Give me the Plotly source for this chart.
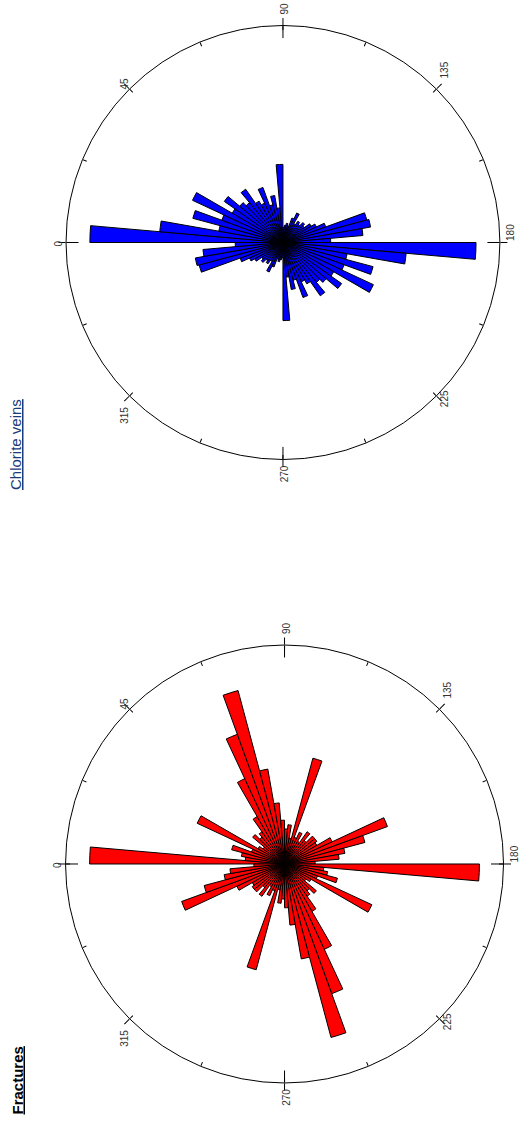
import plotly.graph_objects as go

# 5-degree bins over 0-180 (axial data: each bin is also drawn at +180)
bin_starts = list(range(0, 180, 5))

fractures_half = [89, 18, 20, 25, 16, 44, 14, 12, 19, 16, 18, 25,
                  43, 63, 82, 44, 28, 20, 16, 18, 12, 50, 13, 16,
                  12, 18, 14, 18, 18, 17, 24, 50, 38, 28, 25, 14]

chlorite_half = [89, 57, 30, 43, 30, 46, 27, 33, 26, 24, 30, 22,
                 20, 27, 18, 22, 16, 36, 7, 8, 9, 8, 12, 15,
                 10, 12, 11, 13, 12, 15, 17, 21, 40, 41, 37, 22]

tick_major = [0, 45, 90, 135, 180, 225, 270, 315]
tick_major_text = ["0", "45", "90", "135", "180", "225", "270", "315"]
tick_minor = [0, 22.5, 45, 67.5, 90, 112.5, 135, 157.5, 180, 202.5, 225,
              247.5, 270, 292.5, 315, 337.5]
tick_cardinal = [0, 90, 180, 270]

theta_half = [b + 2.5 for b in bin_starts]
theta_full = theta_half + [t + 180 for t in theta_half]

fig = go.Figure()

fig.add_trace(go.Barpolar(
    r=fractures_half + fractures_half, theta=theta_full, width=5,
    marker=dict(color="#ff0000", line=dict(color="black", width=1)),
    subplot="polar", showlegend=False, hoverinfo="skip"))

fig.add_trace(go.Barpolar(
    r=chlorite_half + chlorite_half, theta=theta_full, width=5,
    marker=dict(color="#0000ff", line=dict(color="black", width=1)),
    subplot="polar2", showlegend=False, hoverinfo="skip"))

overlays = ["polar3", "polar4", "polar5", "polar6"]
for sp in overlays:
    fig.add_trace(go.Scatterpolar(r=[], theta=[], subplot=sp, showlegend=False))

dom_f = dict(x=[0.125, 0.961], y=[0.0416, 0.4292])
dom_c = dict(x=[0.126, 0.954], y=[0.5934, 0.9774])

tickfont = dict(family="Liberation Sans", size=10, color="#333333")


def main_polar(dom):
    return dict(
        domain=dom, bgcolor="rgba(0,0,0,0)",
        radialaxis=dict(visible=False, range=[0, 100]),
        angularaxis=dict(rotation=180, direction="clockwise",
                         tickmode="array", tickvals=tick_major,
                         ticktext=tick_major_text, ticks="outside",
                         ticklen=7, tickcolor="black", tickwidth=1,
                         showline=True, linecolor="black", linewidth=1,
                         showgrid=False, tickfont=tickfont, tickangle=-90))


def tick_polar(dom, vals, side, length):
    return dict(
        domain=dom, bgcolor="rgba(0,0,0,0)",
        radialaxis=dict(visible=False, range=[0, 100]),
        angularaxis=dict(rotation=180, direction="clockwise",
                         tickmode="array", tickvals=vals, ticks=side,
                         ticklen=length, tickcolor="black", tickwidth=1,
                         showline=False, showgrid=False,
                         showticklabels=False))


fig.update_layout(
    width=524, height=1130,
    margin=dict(l=0, r=0, t=0, b=0),
    paper_bgcolor="white", plot_bgcolor="white",
    polar=main_polar(dom_f),
    polar2=main_polar(dom_c),
    polar3=tick_polar(dom_f, tick_minor, "inside", 4),
    polar4=tick_polar(dom_f, tick_cardinal, "inside", 12),
    polar5=tick_polar(dom_c, tick_minor, "inside", 4),
    polar6=tick_polar(dom_c, tick_cardinal, "inside", 12),
    annotations=[
        dict(text="<u><b>Fractures</b></u>", x=16.5 / 524, y=1 - 1081 / 1130,
             xref="paper", yref="paper", xanchor="center", yanchor="middle",
             showarrow=False, textangle=-90,
             font=dict(family="Liberation Sans", size=15, color="black")),
        dict(text="<u>Chlorite veins</u>", x=15 / 524, y=1 - 445 / 1130,
             xref="paper", yref="paper", xanchor="center", yanchor="middle",
             showarrow=False, textangle=-90,
             font=dict(family="Liberation Sans", size=15, color="#1b3a7a")),
    ],
)

fig.write_html("out.html", config={"displayModeBar": False},
               post_script="document.body.style.margin='0';"
                           "document.body.style.padding='0';")
